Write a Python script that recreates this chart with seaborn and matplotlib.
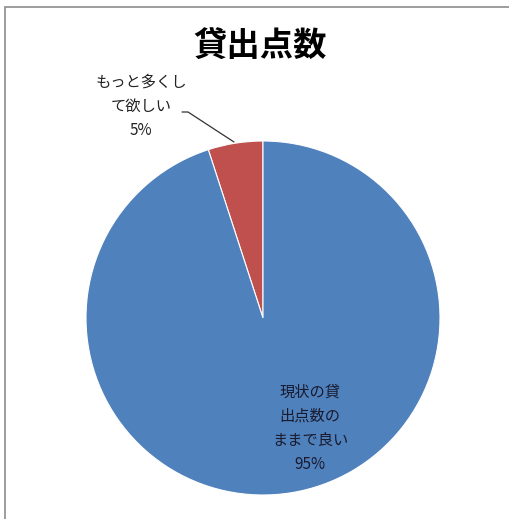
import matplotlib.pyplot as plt
import matplotlib.patches as patches
import seaborn as sns

# Survey answers on the loan limit
categories = ["もっと多くして欲しい", "現状の貸出点数のままで良い"]
label_text = ["もっと多くし\nて欲しい", "現状の貸\n出点数の\nままで良い"]
values = [5, 95]
colors = ["#C0504D", "#4F81BD"]
title = "貸出点数"

sns.set_theme(style="white")
plt.rcParams["font.family"] = ["Noto Sans CJK JP", "DejaVu Sans"]

W, H = 509, 519
fig = plt.figure(figsize=(W / 100, H / 100), dpi=100)
ax = fig.add_axes([0, 0, 1, 1])

# pixel y -> data y
def py(y):
    return H - y

cx, cy, r = 263, py(318), 177
ax.pie(values, colors=colors, startangle=90, counterclock=True,
       center=(cx, cy), radius=r, frame=True,
       wedgeprops=dict(edgecolor="white", linewidth=0.8))
ax.set_xlim(0, W)
ax.set_ylim(0, H)
ax.axis("off")

# labels
ax.text(141, py(106), label_text[0] + f"\n{values[0]}%", ha="center", va="center",
        fontsize=11, linespacing=1.55, color="#222222")
ax.plot([182, 188, 234], [py(112), py(112), py(142)], color="#333333", lw=0.9)
ax.text(310, py(428), label_text[1] + f"\n{values[1]}%", ha="center", va="center",
        fontsize=11, linespacing=1.55, color="#1a1a2e")

ax.text(260, py(46), title, ha="center", va="center", fontsize=24,
        fontweight="bold", color="black")

# chart frame (only left and top edges fall inside the picture)
fig.patches.append(patches.Rectangle((5 / W, -0.05), 1.2, 1.05 - 7 / H,
                                     transform=fig.transFigure, fill=False,
                                     edgecolor="#8c8c8c", linewidth=1.2))

fig.savefig("out.png", dpi=100)
